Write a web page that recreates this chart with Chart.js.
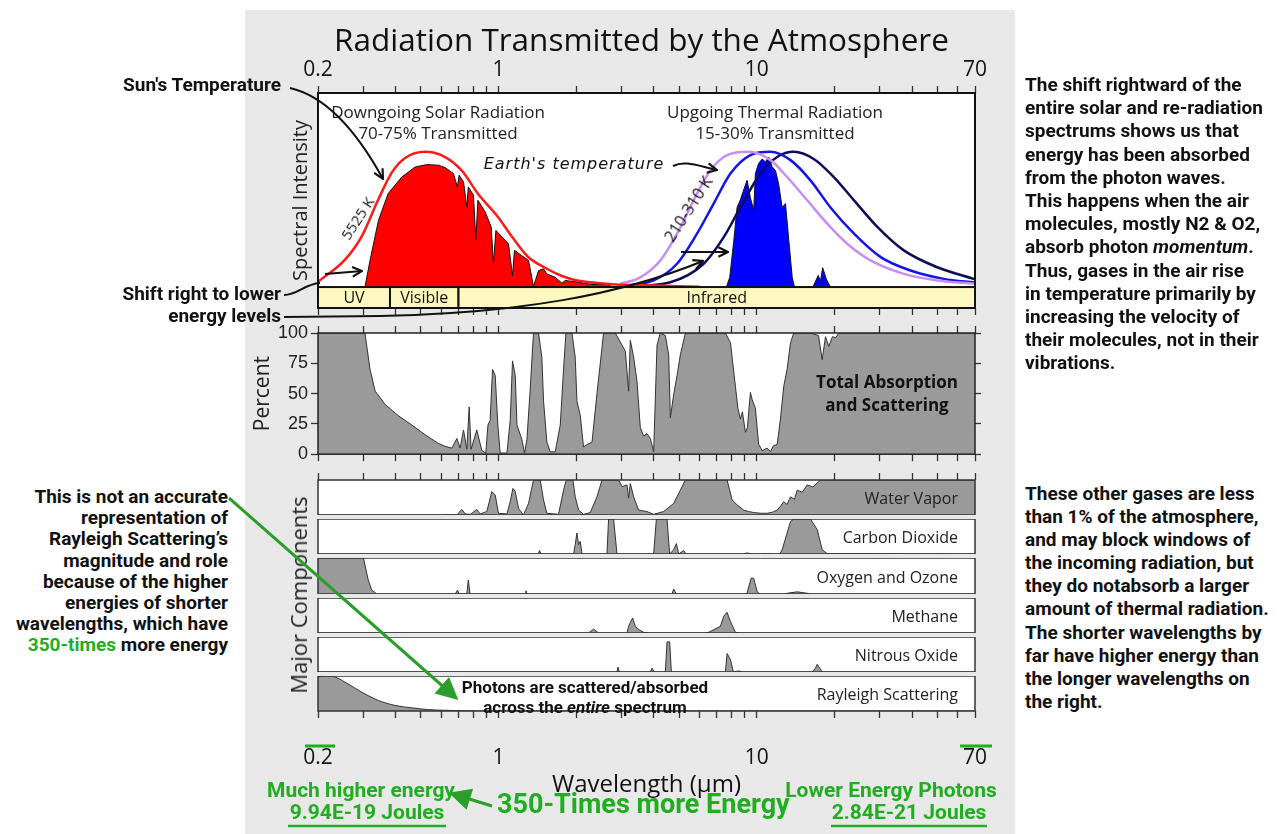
<!DOCTYPE html>
<html>
<head>
<meta charset="utf-8">
<title>Radiation Transmitted by the Atmosphere</title>
<script src="https://cdn.jsdelivr.net/npm/chart.js@4.4.1/dist/chart.umd.min.js"></script>
<style>
  body { margin: 0; background: #fff; }
  #page { position: relative; width: 1283px; height: 834px; overflow: hidden; }
  #backdrop { position: absolute; left: 245px; top: 10px; width: 770px; height: 824px; background: #e8e8e8; }
  canvas { position: absolute; }
  .txt { position: absolute; white-space: nowrap; }
  .note { font: bold 19px Roboto, sans-serif; color: #111; }
  .green { color: #1fae1f; }
  .lab { font: 17px "Open Sans", sans-serif; color: #222; text-align: center; }
  svg { position: absolute; left: 0; top: 0; pointer-events: none; }
</style>
</head>
<body>
<div id="page">
  <div id="backdrop"></div>

  <canvas id="cTop" width="770" height="265" style="left:245px;top:55px"></canvas>
  <canvas id="cPct" width="770" height="150" style="left:245px;top:318px"></canvas>
  <canvas id="cWv" width="770" height="45" style="left:245px;top:470px"></canvas>
  <canvas id="cCo2" width="770" height="35" style="left:245px;top:519px"></canvas>
  <canvas id="cO3" width="770" height="36" style="left:245px;top:558px"></canvas>
  <canvas id="cCh4" width="770" height="35" style="left:245px;top:598px"></canvas>
  <canvas id="cN2o" width="770" height="35" style="left:245px;top:637px"></canvas>
  <canvas id="cRay" width="770" height="128" style="left:245px;top:676px"></canvas>

  <div class="txt" style="left:0;width:1283px;top:21px;text-align:center;font:31.5px 'Open Sans',sans-serif;color:#111;line-height:36px">Radiation Transmitted by the Atmosphere</div>

  <div class="txt lab" style="left:288px;width:300px;top:101px;line-height:21px">Downgoing Solar Radiation<br>70-75% Transmitted</div>
  <div class="txt lab" style="left:625px;width:300px;top:101px;line-height:21px">Upgoing Thermal Radiation<br>15-30% Transmitted</div>
  <div class="txt" style="left:424px;width:300px;top:154px;line-height:22px;text-align:center;font:italic 16px 'DejaVu Sans',sans-serif;letter-spacing:1px;color:#111">Earth's temperature</div>
  <div class="txt" style="left:357px;top:218px;transform:translate(-50%,-50%) rotate(-57deg);font:15px 'Open Sans',sans-serif;color:#111">5525 K</div>
  <div class="txt" style="left:688px;top:209px;transform:translate(-50%,-50%) rotate(-57deg);font:16px 'Open Sans',sans-serif;color:#111">210-310 K</div>

  <div class="txt" style="left:737px;width:300px;top:370px;line-height:25px;text-align:center;font:bold 17px 'Open Sans',sans-serif;color:#111">Total Absorption<br>and Scattering</div>

  <div class="txt" style="left:298px;top:595px;transform:translate(-50%,-50%) rotate(-90deg);font:22px 'Open Sans',sans-serif;color:#222">Major Components</div>
  <div class="txt" style="left:435px;width:300px;top:677px;line-height:16.5px;text-align:center;font:bold 17px Roboto,sans-serif;color:#111">Photons are scattered/absorbed<br>across the <i>entire</i> spectrum</div>

  <div class="txt note" style="right:1002px;top:74px;line-height:22px;text-align:right">Sun's Temperature</div>
  <div class="txt note" style="right:1002px;top:283px;line-height:22px;text-align:right">Shift right to lower<br>energy levels</div>
  <div class="txt note" style="right:1055px;top:486px;line-height:21.2px;text-align:right">This is not an accurate<br>representation of<br>Rayleigh Scattering’s<br>magnitude and role<br>because of the higher<br>energies of shorter<br>wavelengths, which have<br><span class="green">350-times</span> more energy</div>

  <div class="txt note" style="left:1025px;top:73px;line-height:23.2px">The shift rightward of the<br>entire solar and re-radiation<br>spectrums shows us that<br>energy has been absorbed<br>from the photon waves.<br>This happens when the air<br>molecules, mostly N2 &amp; O2,<br>absorb photon <i>momentum</i>.<br>Thus, gases in the air rise<br>in temperature primarily by<br>increasing the velocity of<br>their molecules, not in their<br>vibrations.</div>
  <div class="txt note" style="left:1025px;top:482px;line-height:23.1px">These other gases are less<br>than 1% of the atmosphere,<br>and may block windows of<br>the incoming radiation, but<br>they do notabsorb a larger<br>amount of thermal radiation.<br>The shorter wavelengths by<br>far have higher energy than<br>the longer wavelengths on<br>the right.</div>

  <div class="txt note green" style="left:211px;width:300px;top:779px;line-height:22px;text-align:center;font-size:21px">Much higher energy</div>
  <div class="txt note green" style="left:217px;width:300px;top:801px;line-height:22px;text-align:center;font-size:21px">9.94E-19 Joules</div>
  <div class="txt note green" style="left:497px;top:788px;line-height:32px;font-size:27px">350-Times more Energy</div>
  <div class="txt note green" style="left:741px;width:300px;top:779px;line-height:22px;text-align:center;font-size:21px">Lower Energy Photons</div>
  <div class="txt note green" style="left:759px;width:300px;top:801px;line-height:22px;text-align:center;font-size:21px">2.84E-21 Joules</div>

  <svg width="1283" height="834" viewBox="0 0 1283 834">
    <defs>
      <marker id="ah" viewBox="0 0 10 10" refX="9" refY="5" markerWidth="12" markerHeight="12" markerUnits="userSpaceOnUse" orient="auto">
        <path d="M1,1 L9,5 L1,9" fill="none" stroke="#111" stroke-width="1.8"/>
      </marker>
      <marker id="gh" viewBox="0 0 10 10" refX="8" refY="5" markerWidth="26" markerHeight="22" markerUnits="userSpaceOnUse" orient="auto">
        <path d="M0,0 L10,5 L0,10 Z" fill="#2a9d2a"/>
      </marker>
    </defs>
    <g fill="none" stroke="#111" stroke-width="2">
      <path d="M290,88 C325,96 355,128 383,179" marker-end="url(#ah)"/>
      <path d="M284,295 C298,295 304,284 320,283"/>
      <path d="M325,274 L362,271" marker-end="url(#ah)"/>
      <path d="M284,317 L380,316 C520,313 620,295 703,261" marker-end="url(#ah)"/>
      <path d="M681,252 L728,252" marker-end="url(#ah)"/>
      <path d="M673,166 C685,160 698,166 717,170" marker-end="url(#ah)"/>
    </g>
    <g fill="none" stroke="#2a9d2a" stroke-width="3">
      <path d="M229,498 L455,697" marker-end="url(#gh)"/>
      <path d="M492,806 L453,794" marker-end="url(#gh)"/>
    </g>
    <g stroke="#1fae1f" stroke-width="2.5">
      <path d="M288,826 H446"/>
      <path d="M831,826 H987"/>
      <path d="M305,746 H335" stroke-width="3"/>
      <path d="M960,746 H992" stroke-width="3"/>
    </g>
  </svg>
</div>

<script>
// wavelength axis (micrometres)
const tickMarks = [0.2, 0.3, 0.4, 0.5, 0.6, 0.7, 0.8, 0.9, 1, 2, 3, 4, 5, 6, 7, 8, 9, 10, 20, 30, 40, 50, 60, 70];
const tickLabels = [0.2, 1, 10, 70];

// spectral bands under the top panel
const bandNames = ['UV', 'Visible', 'Infrared'];
const bandStart = [0.2, 0.38, 0.7];
const bandEnd = [0.38, 0.7, 70];

// 5525 K solar curve
const sunCurveWl = [0.2, 0.254, 0.295, 0.342, 0.386, 0.435, 0.52, 0.621, 0.721, 0.834, 0.997, 1.126, 1.3, 1.52, 1.76, 2.04, 2.75, 3.48, 6.0];
const sunCurveVal = [2.7, 14, 26, 45, 59, 66.5, 69.7, 67, 60, 48, 36, 26, 15.6, 9.8, 5.7, 3.2, 1.5, 1, 0.2];

// solar radiation transmitted
const sunWl = [0.304, 0.318, 0.343, 0.374, 0.422, 0.476, 0.528, 0.585, 0.621, 0.669,
  0.693, 0.704, 0.732, 0.754, 0.764, 0.8, 0.817, 0.832, 0.888, 0.937,
  0.956, 0.977, 1.093, 1.133, 1.153, 1.307, 1.366, 1.429, 1.494, 1.539,
  1.658, 1.76, 1.813, 2.042, 2.302, 2.668, 2.75];
const sunVal = [0, 13.7, 34.4, 48.2, 56.7, 61.9, 63.1, 62.8, 61.6, 58.5,
  51.6, 57.6, 54.2, 41.2, 51.6, 47.3, 24, 44.7, 38.7, 30.9,
  12, 29.2, 22.3, 5.9, 18.9, 13.7, 0.3, 8.5, 9.4, 6.8,
  5, 2, 3.4, 2.5, 1.3, 1.3, 0];

// 210-310 K earth curves
const violetWl = [2.962, 3.541, 4.233, 4.913, 5.696, 6.61, 7.676, 9.31, 11.3, 13.11, 15.68, 18.74, 22.4, 27.55, 37.1, 50, 70];
const violetVal = [1.7, 5, 13.7, 27.5, 44.7, 60, 68, 69.7, 65.4, 56.7, 44.7, 32.7, 22.3, 13.7, 6.8, 3.4, 1.8];
const blueWl = [2.962, 3.988, 4.913, 5.87, 6.81, 7.91, 9.45, 11.3, 13.51, 16.14, 19.3, 23.8, 30.2, 39.4, 53, 70];
const blueVal = [0.3, 3.4, 12, 27.5, 43, 58.5, 68, 69.7, 65.4, 55, 41, 27.5, 15.4, 8.5, 4.2, 2.3];
const navyWl = [2.962, 4.628, 6.23, 7.45, 8.64, 10.33, 11.99, 13.91, 16.62, 19.88, 23.8, 29.3, 37.1, 50, 70];
const navyVal = [0, 2.5, 12, 25.7, 41, 58.5, 67, 69.7, 66, 56.7, 44.7, 31, 18.9, 10.2, 4];

// thermal radiation transmitted
const earthWl = [7.63, 7.86, 8.15, 8.39, 8.64, 8.9, 9.17, 9.45, 9.73, 9.88,
  10.17, 10.49, 10.8, 11.13, 11.47, 11.82, 12.16, 12.54, 12.92, 13.31,
  13.72, 14.0, 16.5, 17.3, 17.65, 18.0, 18.6, 19.3];
const earthVal = [0, 5, 24, 41, 45, 50, 55, 46, 39.5, 58.5,
  63.7, 66, 64.5, 67, 62, 60, 53, 41, 43, 24,
  5, 0, 0, 6, 3, 10, 4, 0];

// total absorption and scattering (percent)
const pctWl = [0.2, 0.304, 0.318, 0.333, 0.364, 0.408, 0.462, 0.52, 0.584, 0.621,
  0.66, 0.69, 0.71, 0.732, 0.754, 0.77, 0.783, 0.824, 0.862, 0.893,
  0.91, 0.928, 0.948, 0.971, 0.994, 1.015, 1.078, 1.11, 1.133, 1.161,
  1.179, 1.232, 1.261, 1.288, 1.327, 1.366, 1.429, 1.472, 1.494, 1.539,
  1.586, 1.658, 1.734, 1.786, 1.824, 1.925, 1.982, 2.012, 2.073, 2.134,
  2.2, 2.302, 2.406, 2.552, 2.834, 3.008, 3.098, 3.19, 3.239, 3.336,
  3.438, 3.541, 3.646, 3.758, 3.872, 3.988, 4.11, 4.233, 4.426, 4.56,
  4.628, 4.766, 4.914, 5.06, 5.292, 7.56, 7.91, 8.266, 8.45, 8.64,
  8.8, 9.04, 9.2, 9.45, 9.6, 9.88, 10.05, 10.18, 10.5, 10.97,
  11.3, 11.6, 11.99, 12.2, 12.35, 12.72, 13.11, 13.51, 13.91, 16.14,
  17.34, 17.92, 18.46, 19.0, 19.64, 20.18, 20.8, 70];
const pctVal = [100, 100, 70, 52, 41, 32, 24, 16, 9, 6.5,
  5, 13, 5, 20, 4, 39, 4, 20, 3, 1,
  24, 28, 70, 65, 24, 1, 1, 28, 77, 65,
  24, 12, 1, 12, 54, 100, 100, 80, 44, 10,
  2, 2, 24, 70, 100, 100, 80, 44, 32, 6,
  8, 10, 50, 100, 100, 90, 85, 52, 94, 80,
  60, 22, 15, 17, 13, 2, 90, 100, 98, 82,
  30, 49, 65, 82, 100, 100, 92, 56, 38, 29,
  35, 18, 22, 51, 45, 38, 20, 8, 3, 5,
  2, 7, 8, 20, 29, 56, 70, 92, 100, 100,
  98, 78, 97, 89, 97, 96, 100, 100];

// major components
const componentNames = ['Water Vapor', 'Carbon Dioxide', 'Oxygen and Ozone', 'Methane', 'Nitrous Oxide', 'Rayleigh Scattering'];

const wvWl = [0.2, 0.594, 0.66, 0.69, 0.721, 0.743, 0.78, 0.824, 0.849, 0.901,
  0.942, 0.971, 1.0, 1.078, 1.11, 1.137, 1.161, 1.195, 1.249, 1.307,
  1.366, 1.451, 1.494, 1.539, 1.708, 1.786, 1.83, 1.942, 1.982, 2.042,
  2.134, 2.266, 2.406, 2.516, 2.917, 3.008, 3.145, 3.19, 3.239, 3.336,
  3.488, 3.758, 3.988, 4.36, 4.766, 5.06, 5.292, 7.676, 8.03, 8.39,
  8.9, 9.3, 9.73, 10.4, 10.97, 11.5, 11.99, 12.35, 12.72, 13.1,
  13.51, 14.0, 14.34, 15.0, 15.68, 16.5, 17.65, 70];
const wvVal = [0, 0, 1, 0, 16, 3, 2, 16, 3, 10,
  67, 57, 5, 3, 38, 76, 67, 19, 0, 33,
  100, 100, 43, 5, 2, 71, 100, 100, 52, 14,
  2, 7, 52, 100, 100, 81, 86, 48, 90, 52,
  14, 10, 2, 10, 33, 71, 100, 100, 43, 29,
  14, 10, 7, 5, 5, 8, 14, 25, 38, 30,
  52, 45, 71, 65, 86, 80, 100, 100];

const co2Wl = [0.2, 1.425, 1.442, 1.46, 1.953, 1.982, 2.012, 2.042, 2.073, 2.105,
  2.63, 2.668, 2.79, 2.876, 3.988, 4.086, 4.493, 4.6, 4.766, 4.884,
  4.984, 5.212, 5.323, 8.9, 9.17, 9.6, 10.4, 10.64, 11.5, 12.3,
  12.54, 13.11, 13.51, 13.91, 16.14, 17.14, 17.92, 18.74, 70];
const co2Val = [0, 0, 10, 0, 0, 27, 60, 27, 36, 0,
  0, 100, 100, 0, 0, 100, 100, 0, 12, 30,
  0, 10, 0, 0, 3, 0, 0, 1, 0, 0,
  12, 60, 93, 100, 100, 70, 12, 1, 0];

const o3Wl = [0.2, 0.3, 0.313, 0.323, 0.338, 0.68, 0.694, 0.704, 0.754, 0.764,
  0.776, 1.269, 1.277, 1.288, 4.7, 4.766, 4.884, 9.0, 9.17, 9.51,
  9.73, 10.03, 10.27, 12.8, 13.11, 14.34, 15.68, 16.14, 70];
const o3Val = [100, 100, 39, 11, 0, 0, 11, 0, 0, 39,
  0, 0, 9, 0, 0, 14, 0, 0, 2, 44,
  44, 7, 0, 0, 2, 6, 2, 0, 0];

const ch4Wl = [0.2, 2.232, 2.334, 2.44, 3.145, 3.19, 3.239, 3.306, 3.388, 3.488,
  3.646, 3.8, 6.3, 6.51, 7.23, 7.45, 7.676, 7.91, 8.266, 8.64, 70];
const ch4Val = [0, 0, 11, 0, 0, 19, 30, 43, 19, 10,
  2, 0, 0, 2, 19, 48, 59, 33, 2, 0, 0];

const n2oWl = [0.2, 2.876, 2.9, 2.94, 3.872, 3.93, 4.01, 4.426, 4.493, 4.6,
  4.67, 7.56, 7.676, 7.91, 8.12, 8.53, 8.8, 16.39, 16.88, 17.14,
  17.65, 17.92, 70];
const n2oVal = [0, 0, 14, 0, 0, 11, 0, 0, 86, 86,
  0, 0, 53, 35, 0, 3, 0, 0, 11, 22,
  8, 0, 0];

const rayWl = [0.2, 0.213, 0.233, 0.254, 0.295, 0.343, 0.397, 0.462, 0.535, 0.621, 0.836, 70];
const rayVal = [97, 100, 97, 83, 54, 30, 16, 9, 4, 2, 0, 0];


const pts = (xs, ys) => xs.map((x, i) => ({x: x, y: ys[i]}));

// white plot area, frame and panel name
const panelDecor = {
  id: 'panelDecor',
  beforeDraw(chart) {
    const a = chart.chartArea, ctx = chart.ctx;
    ctx.save();
    ctx.fillStyle = '#fff';
    ctx.fillRect(a.left, a.top, a.width, a.height);
    ctx.restore();
  },
  afterDraw(chart, args, opts) {
    const a = chart.chartArea, ctx = chart.ctx;
    ctx.save();
    ctx.strokeStyle = opts.color || '#222';
    ctx.lineWidth = opts.width || 1.5;
    ctx.strokeRect(a.left, a.top, a.width, a.height);
    if (opts.name) {
      ctx.font = '16px "Open Sans"';
      ctx.fillStyle = '#222';
      ctx.textAlign = 'right';
      ctx.textBaseline = 'middle';
      ctx.fillText(opts.name, a.right - 17, (a.top + a.bottom) / 2 + 2);
    }
    ctx.restore();
  }
};
Chart.register(panelDecor);

// UV / Visible / Infrared boxes under the spectrum
const bandPlugin = {
  id: 'bands',
  afterDatasetsDraw(chart) {
    const ctx = chart.ctx, x = chart.scales.x, y = chart.scales.y;
    const top = y.getPixelForValue(0), bottom = chart.chartArea.bottom;
    ctx.save();
    for (let i = 0; i < bandNames.length; i++) {
      const x1 = x.getPixelForValue(bandStart[i]), x2 = x.getPixelForValue(bandEnd[i]);
      ctx.fillStyle = '#fdf8c0';
      ctx.fillRect(x1, top, x2 - x1, bottom - top);
      ctx.strokeStyle = '#111';
      ctx.lineWidth = 2;
      ctx.strokeRect(x1, top, x2 - x1, bottom - top);
      ctx.fillStyle = '#111';
      ctx.font = '16px "Open Sans"';
      ctx.textAlign = 'center';
      ctx.textBaseline = 'middle';
      ctx.fillText(bandNames[i], (x1 + x2) / 2, (top + bottom) / 2 + 1);
    }
    ctx.restore();
  }
};

function wlAxis(position, height, labelled) {
  return {
    type: 'logarithmic',
    position: position,
    min: 0.2,
    max: 70,
    afterBuildTicks: axis => { axis.ticks = tickMarks.map(v => ({value: v})); },
    afterFit: axis => { axis.height = height; },
    grid: { drawOnChartArea: false, tickLength: 7, tickColor: '#333', tickWidth: 1.3 },
    border: { display: false },
    ticks: {
      display: labelled,
      autoSkip: false,
      maxRotation: 0,
      padding: 3,
      color: '#111',
      font: { family: 'Open Sans', size: 21 },
      callback: v => tickLabels.includes(v) ? String(v) : ''
    }
  };
}

const baseOptions = () => ({
  responsive: false,
  animation: false,
  devicePixelRatio: 1,
  events: [],
  elements: { point: { radius: 0 }, line: { tension: 0 } },
  plugins: { legend: { display: false }, tooltip: { enabled: false } }
});

// ---- top: spectral intensity ----
let opts = baseOptions();
opts.plugins.panelDecor = { width: 2, color: '#111' };
opts.scales = {
  x: wlAxis('top', 38, true),
  xb: wlAxis('bottom', 12, false),
  y: {
    type: 'linear', position: 'left', min: -10.8, max: 100,
    afterFit: s => { s.width = 73; },
    ticks: { display: false }, grid: { display: false }, border: { display: false },
    title: { display: true, text: 'Spectral Intensity', color: '#222', font: { family: 'Open Sans', size: 20 }, padding: { top: 44 } }
  },
  yr: {
    type: 'linear', position: 'right', min: 0, max: 100,
    afterFit: s => { s.width = 40; },
    ticks: { display: false }, grid: { display: false }, border: { display: false }
  }
};
new Chart(document.getElementById('cTop'), {
  type: 'line',
  data: { datasets: [
    { data: pts(sunCurveWl, sunCurveVal), borderColor: '#ff1a1a', borderWidth: 2.5, cubicInterpolationMode: 'monotone', fill: false },
    { data: pts(violetWl, violetVal), borderColor: '#c88df2', borderWidth: 2.5, cubicInterpolationMode: 'monotone', fill: false },
    { data: pts(blueWl, blueVal), borderColor: '#1414e6', borderWidth: 2.5, cubicInterpolationMode: 'monotone', fill: false },
    { data: pts(navyWl, navyVal), borderColor: '#0c0c58', borderWidth: 2.5, cubicInterpolationMode: 'monotone', fill: false },
    { data: pts(sunWl, sunVal), borderColor: '#111', borderWidth: 1, backgroundColor: '#ff0000', fill: 'origin' },
    { data: pts(earthWl, earthVal), borderColor: '#111', borderWidth: 1, backgroundColor: '#0000ff', fill: 'origin' }
  ]},
  options: opts,
  plugins: [bandPlugin]
});

// ---- middle: total absorption ----
opts = baseOptions();
opts.plugins.panelDecor = { width: 1.5, color: '#222' };
opts.scales = {
  x: wlAxis('top', 15, false),
  xb: wlAxis('bottom', 12, false),
  y: {
    type: 'linear', position: 'left', min: 0, max: 100,
    afterFit: s => { s.width = 73; },
    grid: { drawOnChartArea: false, tickLength: 7, tickColor: '#333', tickWidth: 1.3 },
    border: { display: false },
    ticks: { stepSize: 25, padding: 3, color: '#222', font: { family: 'Liberation Sans', size: 18 } },
    title: { display: true, text: 'Percent', color: '#222', font: { family: 'Open Sans', size: 21 }, padding: { top: 5 } }
  },
  yr: {
    type: 'linear', position: 'right', min: 0, max: 100,
    afterFit: s => { s.width = 40; },
    grid: { drawOnChartArea: false, tickLength: 6, tickColor: '#333', tickWidth: 1.3 },
    border: { display: false },
    ticks: { display: false, stepSize: 25 }
  }
};
new Chart(document.getElementById('cPct'), {
  type: 'line',
  data: { datasets: [
    { data: pts(pctWl, pctVal), borderColor: '#333', borderWidth: 1, backgroundColor: '#9a9a9a', fill: 'origin' }
  ]},
  options: opts
});

// ---- bottom: major components ----
const compIds = ['cWv', 'cCo2', 'cO3', 'cCh4', 'cN2o', 'cRay'];
const compWl = [wvWl, co2Wl, o3Wl, ch4Wl, n2oWl, rayWl];
const compVal = [wvVal, co2Val, o3Val, ch4Val, n2oVal, rayVal];

compIds.forEach((id, i) => {
  const o = baseOptions();
  o.layout = { padding: { left: 73, right: 40 } };
  o.plugins.panelDecor = { width: 1.5, color: '#333', name: componentNames[i] };
  let x = { type: 'logarithmic', min: 0.2, max: 70, display: false };
  if (i === 0) x = wlAxis('top', 10, false);
  if (i === compIds.length - 1) {
    x = wlAxis('bottom', 93, true);
    x.ticks.padding = 27;
    x.title = { display: true, text: 'Wavelength (μm)', color: '#111', font: { family: 'Open Sans', size: 24 }, padding: { top: 0, bottom: 4 } };
  }
  o.scales = { x: x, y: { type: 'linear', min: 0, max: 100, display: false } };
  new Chart(document.getElementById(id), {
    type: 'line',
    data: { datasets: [
      { data: pts(compWl[i], compVal[i]), borderColor: '#333', borderWidth: 1, backgroundColor: '#9a9a9a', fill: 'origin',
        cubicInterpolationMode: id === 'cRay' ? 'monotone' : 'default' }
    ]},
    options: o
  });
});
</script>
</body>
</html>
